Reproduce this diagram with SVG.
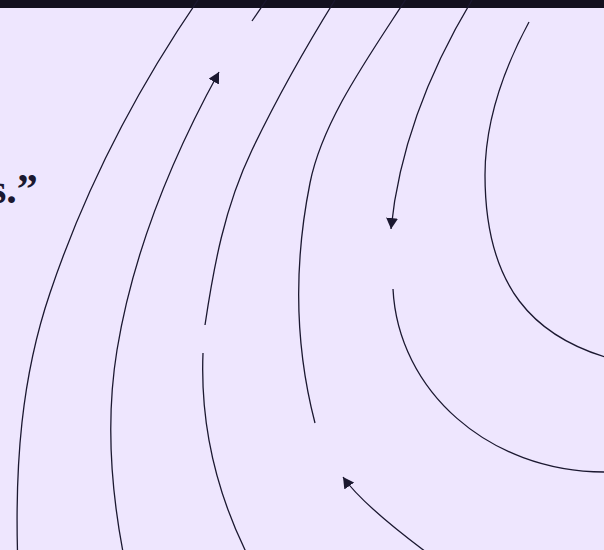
<svg xmlns="http://www.w3.org/2000/svg" width="604" height="550" viewBox="0 0 604 550">
  <style>
    .bg { fill: #eee6fe; }
    .band { fill: #13111f; }
    .edge { fill: none; stroke: #1b1830; stroke-width: 1.3; stroke-linecap: butt; }
    .quote { font-family: "Liberation Serif", "Times New Roman", serif; font-weight: bold; font-size: 42px; fill: #1b1830; }
  </style>
  <defs>
    <marker id="arrow" markerUnits="userSpaceOnUse" markerWidth="12" markerHeight="12" refX="11" refY="6" orient="auto" viewBox="0 0 12 12">
      <path d="M0,0 L11,6 L0,12 z" fill="#1b1830"/>
    </marker>
  </defs>

  <rect class="bg" x="0" y="0" width="604" height="550"/>
  <rect class="band" x="0" y="0" width="604" height="8"/>

  <g id="text-fragment">
    <text class="quote" x="-10" y="203">s.”</text>
  </g>

  <g id="connectors">
    <!-- outermost arc -->
    <path class="edge" d="M198,0 C131,98 83,195 50,293 C20.8,379 15.3,466 17.5,552"/>
    <!-- second arc, upward arrow -->
    <path class="edge" d="M123,552 C110.3,485 106,417 117,350 C132.3,257 167.9,165 219,72" marker-end="url(#arrow)"/>
    <path class="edge" d="M252,21 L267,-1"/>
    <!-- third arc (with gap) -->
    <path class="edge" d="M335,0 C304,50 276,100 252,150 C224.2,208 213.7,267 205,325"/>
    <path class="edge" d="M203,353 C200.3,421 214,488 248,556"/>
    <!-- fourth arc -->
    <path class="edge" d="M406,-1 C366.4,60 322.2,122 310,183 C294,263 294.2,343 315,423"/>
    <!-- fifth arc, downward arrow -->
    <path class="edge" d="M472,0 C426.4,76 398.6,153 391,229" marker-end="url(#arrow)"/>
    <!-- sixth arc -->
    <path class="edge" d="M529,22 C501.5,73 485,124 485,175 C485,290 537,336 605,357"/>
    <!-- inner lower arc -->
    <path class="edge" d="M393,289 C398,390 488,472 605,472"/>
    <!-- bottom arrow -->
    <path class="edge" d="M426,552 C403.6,535.2 359,500 343,477" marker-end="url(#arrow)"/>
  </g>
</svg>
